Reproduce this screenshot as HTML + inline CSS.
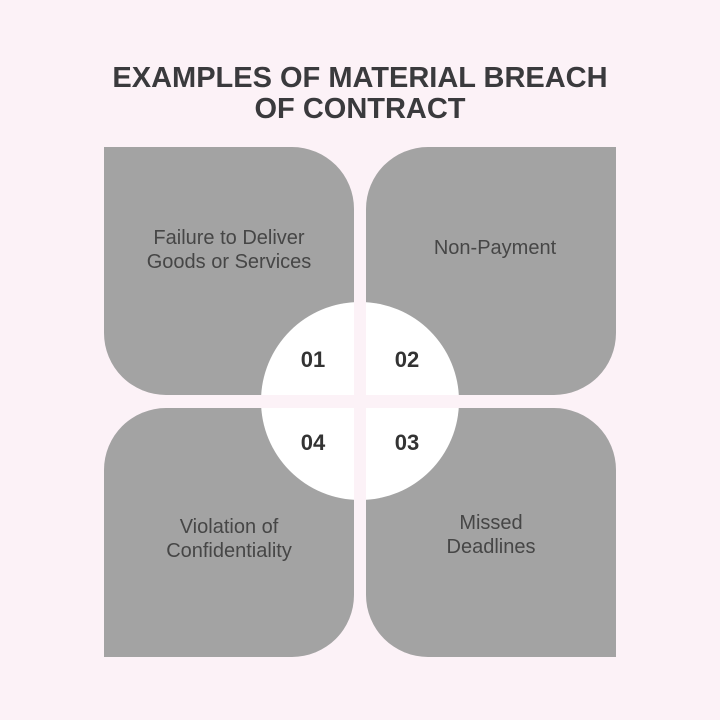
<!DOCTYPE html>
<html><head><style>
html,body{margin:0;padding:0}
body{width:720px;height:720px;background:#fcf2f7;position:relative;overflow:hidden;font-family:"Liberation Sans",sans-serif}
.t{position:absolute;left:0;width:720px;text-align:center;font-weight:bold;font-size:29px;color:#3a3a3d;line-height:30px}
.q{position:absolute;width:250px;height:249px;background:#a3a3a3}
.lbl{position:absolute;text-align:center;color:#464646;font-size:20px;line-height:24px;transform:translate(-50%,-50%);white-space:nowrap}
.n{position:absolute;font-weight:bold;font-size:22px;color:#333;transform:translate(-50%,-50%)}
</style></head><body>
<div class="t" style="top:63px">EXAMPLES OF MATERIAL BREACH</div>
<div class="t" style="top:94px">OF CONTRACT</div>
<div class="q" style="left:104px;top:147px;height:248px;border-radius:0 62px 0 62px"></div>
<div class="q" style="left:366px;top:147px;height:248px;border-radius:62px 0 62px 0"></div>
<div class="q" style="left:104px;top:408px;border-radius:62px 0 62px 0"></div>
<div class="q" style="left:366px;top:408px;border-radius:0 62px 0 62px"></div>
<div style="position:absolute;left:261px;top:302px;width:198px;height:198px;border-radius:50%;background:#fff"></div>
<div style="position:absolute;left:354px;top:290px;width:12px;height:220px;background:#fcf2f7"></div>
<div style="position:absolute;left:250px;top:395px;width:220px;height:13px;background:#fcf2f7"></div>
<div class="lbl" style="left:229px;top:250px">Failure to Deliver<br>Goods or Services</div>
<div class="lbl" style="left:495px;top:248px">Non-Payment</div>
<div class="lbl" style="left:229px;top:539px">Violation of<br>Confidentiality</div>
<div class="lbl" style="left:491px;top:535px">Missed<br>Deadlines</div>
<div class="n" style="left:313px;top:360px">01</div>
<div class="n" style="left:407px;top:360px">02</div>
<div class="n" style="left:313px;top:443px">04</div>
<div class="n" style="left:407px;top:443px">03</div>
</body></html>
